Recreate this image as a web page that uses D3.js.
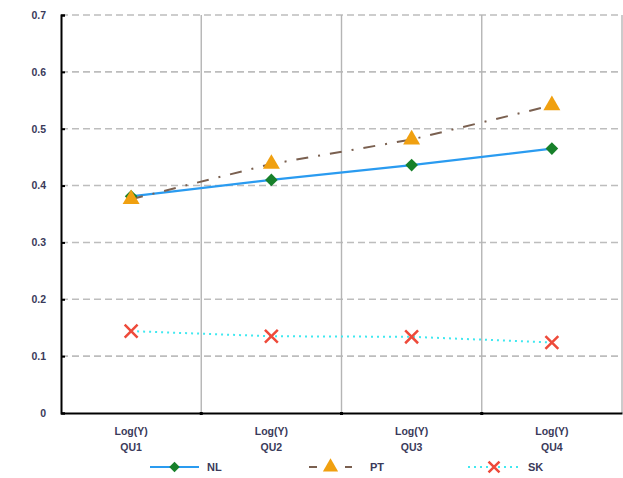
<!DOCTYPE html>
<html><head><meta charset="utf-8">
<script src="https://cdn.jsdelivr.net/npm/d3@7"></script>
<style>body{margin:0;background:#fff}</style>
</head><body>
<svg id="c" width="623" height="478"></svg>
<script>
const categories = ["QU1", "QU2", "QU3", "QU4"];
const catPrefix = "Log(Y)";
const NL = [0.381, 0.410, 0.436, 0.465];
const PT = [0.376, 0.438, 0.481, 0.541];
const SK = [0.144, 0.135, 0.134, 0.124];
const yTicks = [0, 0.1, 0.2, 0.3, 0.4, 0.5, 0.6, 0.7];
const seriesNames = ["NL", "PT", "SK"];

const svg = d3.select("#c");
const L = 61, R = 622, T = 15, B = 413;
const x = d3.scaleBand().domain(categories).range([L, R]);
const y = d3.scaleLinear().domain([0, 0.7]).range([B, T]);
const fontFam = "'Liberation Sans', Arial, sans-serif";
const textCol = "#3a3a5a";
const fs = 10.5;

// horizontal dashed gridlines
svg.append("g").selectAll("line").data(yTicks.filter(d => d > 0)).join("line")
  .attr("x1", L).attr("x2", R).attr("y1", d => y(d)).attr("y2", d => y(d))
  .attr("stroke", "#bdbdbd").attr("stroke-width", 1.6).attr("stroke-dasharray", "7,4");
// vertical gridlines
svg.append("g").selectAll("line").data(categories.slice(1).concat(["__end"])).join("line")
  .attr("x1", d => d === "__end" ? R : x(d)).attr("x2", d => d === "__end" ? R : x(d))
  .attr("y1", T).attr("y2", B)
  .attr("stroke", "#b5b5b5").attr("stroke-width", 1.4);

// y axis
const yAxis = svg.append("g").attr("transform", `translate(${L},0)`)
  .call(d3.axisLeft(y).tickValues(yTicks).tickSize(-4).tickPadding(15).tickFormat(d3.format("")));
yAxis.select(".domain").attr("stroke", "#000").attr("stroke-width", 2);
yAxis.selectAll(".tick line").attr("stroke", "#000").attr("stroke-width", 2);
yAxis.selectAll(".tick text").attr("font-family", fontFam).attr("font-size", fs)
  .attr("font-weight", "bold").attr("fill", textCol);

// x axis
const xAxis = svg.append("g").attr("transform", `translate(0,${B})`)
  .call(d3.axisBottom(x).tickSize(0).tickFormat(""));
xAxis.select(".domain").attr("stroke", "#000").attr("stroke-width", 2);
xAxis.selectAll(".tick").each(function(d) {
  const g = d3.select(this);
  g.select("text").remove();
  const t = g.append("text").attr("text-anchor", "middle").attr("font-family", fontFam)
    .attr("font-size", fs).attr("font-weight", "bold").attr("fill", textCol);
  t.append("tspan").attr("x", 0).attr("y", 22).text(catPrefix);
  t.append("tspan").attr("x", 0).attr("y", 38).text(d);
});
// small tick dots on x axis at boundaries
svg.append("g").selectAll("rect").data(categories.slice(1)).join("rect")
  .attr("x", d => x(d) - 1.5).attr("y", B - 1).attr("width", 3).attr("height", 3).attr("fill", "#000");

const cx = d => x(d) + x.bandwidth() / 2;
const line = d3.line().x(d => cx(d[0])).y(d => y(d[1]));
const zip = arr => categories.map((c, i) => [c, arr[i]]);

// lines
svg.append("path").datum(zip(NL)).attr("d", line).attr("fill", "none")
  .attr("stroke", "#2a9bf0").attr("stroke-width", 2.2);
svg.append("path").datum(zip(PT)).attr("d", line).attr("fill", "none")
  .attr("stroke", "#7a6050").attr("stroke-width", 2).attr("stroke-dasharray", "12,10,2,10");
svg.append("path").datum(zip(SK)).attr("d", line).attr("fill", "none")
  .attr("stroke", "#40e8f0").attr("stroke-width", 2).attr("stroke-dasharray", "2,4");

// markers
const square = d3.symbol().type(d3.symbolSquare).size(80);
const tri = d3.symbol().type(d3.symbolTriangle).size(125);
const cross = d3.symbol().type(d3.symbolX).size(110);

svg.append("g").selectAll("path").data(zip(NL)).join("path")
  .attr("transform", d => `translate(${cx(d[0])},${y(d[1])}) rotate(45)`)
  .attr("d", square).attr("fill", "#17802a");
svg.append("g").selectAll("path").data(zip(PT)).join("path")
  .attr("transform", d => `translate(${cx(d[0])},${y(d[1])})`)
  .attr("d", tri).attr("fill", "#f0a010");
svg.append("g").selectAll("path").data(zip(SK)).join("path")
  .attr("transform", d => `translate(${cx(d[0])},${y(d[1])})`)
  .attr("d", cross).attr("fill", "none").attr("stroke", "#ee4a3a").attr("stroke-width", 2.5);

// legend
const ly = 467;
const leg = [
  {name: seriesNames[0], x1: 150, x2: 199, color: "#2a9bf0", dash: null, mk: "d", tx: 207},
  {name: seriesNames[1], x1: 309, x2: 352, color: "#7a6050", dash: "8,10", mk: "t", tx: 370},
  {name: seriesNames[2], x1: 468, x2: 520, color: "#40e8f0", dash: "2,4", mk: "x", tx: 528}
];
leg.forEach(l => {
  svg.append("line").attr("x1", l.x1).attr("x2", l.x2).attr("y1", ly).attr("y2", ly)
    .attr("stroke", l.color).attr("stroke-width", 2.2).attr("stroke-dasharray", l.dash);
  const mx = (l.x1 + l.x2) / 2;
  if (l.mk === "d") svg.append("path").attr("transform", `translate(${mx},${ly}) rotate(45)`)
    .attr("d", d3.symbol().type(d3.symbolSquare).size(55)).attr("fill", "#17802a");
  if (l.mk === "t") svg.append("path").attr("transform", `translate(${mx},${ly})`)
    .attr("d", d3.symbol().type(d3.symbolTriangle).size(100)).attr("fill", "#f0a010");
  if (l.mk === "x") svg.append("path").attr("transform", `translate(${mx},${ly})`)
    .attr("d", d3.symbol().type(d3.symbolX).size(80)).attr("stroke", "#ee4a3a").attr("stroke-width", 2.5);
  svg.append("text").attr("x", l.tx).attr("y", ly + 4).attr("font-family", fontFam)
    .attr("font-size", fs + 0.5).attr("font-weight", "bold").attr("fill", textCol).text(l.name);
});
</script>
</body></html>
